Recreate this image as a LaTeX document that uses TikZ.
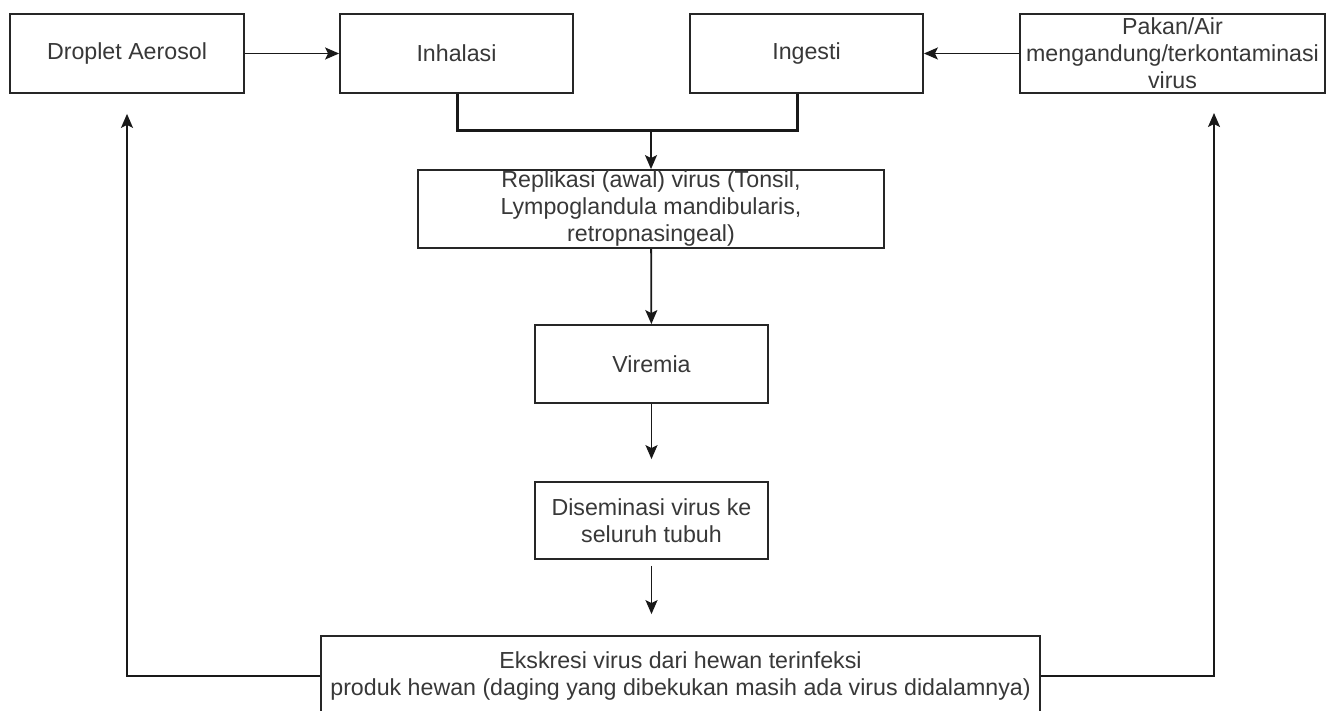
\documentclass[tikz,border=0pt]{standalone}
\usepackage{fontspec}
\setmainfont{Liberation Sans}
\usetikzlibrary{arrows.meta}
\begin{document}
\begin{tikzpicture}[x=1pt,y=-1pt,
  box/.style={draw=black!85, line width=1.8pt, minimum height=79pt, inner sep=0pt,
    align=center, text=black!78, font=\fontsize{23.2}{27}\selectfont},
  conn/.style={draw=black!90, line width=1.8pt, -{Stealth[length=14pt,width=12pt,inset=3pt]}},
  merge/.style={draw=black!90, line width=3pt, line join=miter},
]
\useasboundingbox[fill=white] (0,0) rectangle (1336,711);
\node[box, minimum width=234pt] (drop) at (127,53.5) {Droplet Aerosol};
\node[box, minimum width=233pt] (inh) at (456.5,53.5) {Inhalasi};
\node[box, minimum width=233pt] (ing) at (806.5,53.5) {Ingesti};
\node[box, minimum width=305pt] (pakan) at (1172.5,53.5) {Pakan/Air\\mengandung/terkontaminasi\\virus};
\node[box, minimum width=466pt, minimum height=78pt] (rep) at (651,209) {Replikasi (awal) virus (Tonsil,\\Lympoglandula mandibularis,\\retropnasingeal)};
\node[box, minimum width=233pt, minimum height=78pt] (vir) at (651.5,364) {Viremia};
\node[box, minimum width=233pt, minimum height=77pt] (dis) at (651.5,520.5) {Diseminasi virus ke\\seluruh tubuh};
\node[box, minimum width=719pt, minimum height=80pt] (exk) at (680.5,676) {Ekskresi virus dari hewan terinfeksi\\produk hewan (daging yang dibekukan masih ada virus didalamnya)};

\coordinate (mL) at (457,131);
\coordinate (mR) at (797,131);
\coordinate (mC) at (651,131);
\coordinate (rx) at (1214,93);

\draw[conn] (drop) -- (inh);
\draw[conn] (pakan) -- (ing);
\draw[merge] (mL |- inh.south) -- (mL) -- (mR) -- (mR |- ing.south);
\draw[conn] (mC) -- (rep.north);
\draw[conn] (rep) -- (vir);
\draw[conn, shorten >=22pt] (vir) -- (dis);
\draw[conn, shorten <=6pt, shorten >=21pt] (dis.south) -- (dis.south |- exk.north);
\draw[conn, shorten >=20pt] (exk.west) -| (drop.south);
\draw[conn, shorten >=20pt] (exk.east) -| (rx);
\end{tikzpicture}
\end{document}
